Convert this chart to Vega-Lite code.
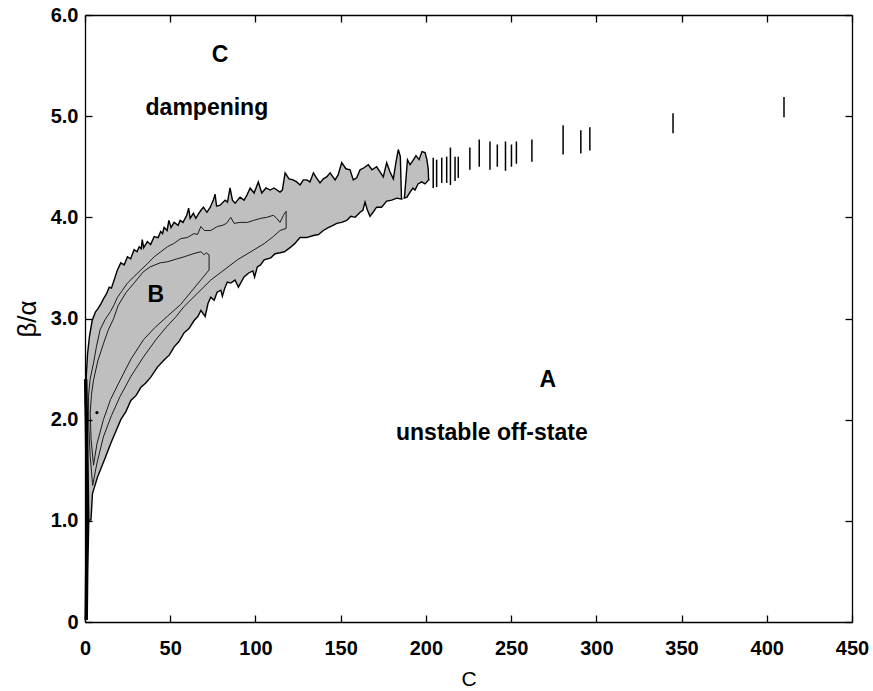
{
 "$schema": "https://vega.github.io/schema/vega-lite/v6.json",
 "width": 767, "height": 607,
 "autosize": {"type": "none"},
 "padding": {"left": 85, "top": 15, "right": 21, "bottom": 69},
 "background": "white",
 "config": {
  "view": {"stroke": null},
  "axis": {"domainColor": "black", "domainWidth": 1.3, "tickColor": "black", "tickWidth": 1.3, "tickSize": -7,
   "labelFont": "Liberation Sans", "labelFontWeight": "bold", "labelFontSize": 20, "labelColor": "black", "labelFlush": false, "labelOverlap": false,
   "titleFont": "Liberation Sans", "titleColor": "black", "titleFontWeight": "normal", "grid": false, "zindex": 1}
 },
 "datasets": {
  "upper": [
   {"seg":1,"x":0.2,"hi":2.15},{"seg":1,"x":0.8,"hi":2.45},{"seg":1,"x":1.5,"hi":2.65},{"seg":1,"x":2.6,"hi":2.82},{"seg":1,"x":4.2,"hi":2.98},{"seg":1,"x":6.0,"hi":3.06},{"seg":1,"x":7.7,"hi":3.10},{"seg":1,"x":9.5,"hi":3.15},{"seg":1,"x":11.0,"hi":3.20},{"seg":1,"x":12.5,"hi":3.24},{"seg":1,"x":14.2,"hi":3.31},{"seg":1,"x":15.5,"hi":3.30},{"seg":1,"x":17.1,"hi":3.38},{"seg":1,"x":19.0,"hi":3.48},{"seg":1,"x":21.0,"hi":3.55},{"seg":1,"x":23.0,"hi":3.53},{"seg":1,"x":24.9,"hi":3.61},{"seg":1,"x":26.8,"hi":3.59},{"seg":1,"x":28.8,"hi":3.68},{"seg":1,"x":30.5,"hi":3.66},{"seg":1,"x":31.8,"hi":3.71},{"seg":1,"x":33.0,"hi":3.69},{"seg":1,"x":33.6,"hi":3.78},{"seg":1,"x":34.4,"hi":3.70},{"seg":1,"x":36.6,"hi":3.76},{"seg":1,"x":38.5,"hi":3.73},{"seg":1,"x":40.6,"hi":3.81},{"seg":1,"x":42.9,"hi":3.80},{"seg":1,"x":44.4,"hi":3.86},{"seg":1,"x":45.5,"hi":3.84},{"seg":1,"x":46.4,"hi":3.90},{"seg":1,"x":48.2,"hi":3.87},{"seg":1,"x":49.2,"hi":3.97},{"seg":1,"x":50.5,"hi":3.90},{"seg":1,"x":52.3,"hi":3.95},{"seg":1,"x":54.6,"hi":3.92},{"seg":1,"x":55.8,"hi":3.97},{"seg":1,"x":57.5,"hi":3.95},{"seg":1,"x":59.7,"hi":4.02},{"seg":1,"x":60.8,"hi":4.09},{"seg":1,"x":61.7,"hi":3.99},{"seg":1,"x":63.6,"hi":4.04},{"seg":1,"x":65.0,"hi":3.99},{"seg":1,"x":66.4,"hi":4.03},{"seg":1,"x":68.0,"hi":4.07},{"seg":1,"x":69.5,"hi":4.10},{"seg":1,"x":71.5,"hi":4.05},{"seg":1,"x":73.5,"hi":4.10},{"seg":1,"x":75.3,"hi":4.17},{"seg":1,"x":76.3,"hi":4.23},{"seg":1,"x":77.2,"hi":4.11},{"seg":1,"x":79.3,"hi":4.12},{"seg":1,"x":82.2,"hi":4.17},{"seg":1,"x":83.6,"hi":4.15},{"seg":1,"x":85.1,"hi":4.29},{"seg":1,"x":86.5,"hi":4.17},{"seg":1,"x":88.1,"hi":4.14},{"seg":1,"x":91.0,"hi":4.20},{"seg":1,"x":93.3,"hi":4.17},{"seg":1,"x":95.0,"hi":4.22},{"seg":1,"x":96.9,"hi":4.29},{"seg":1,"x":99.2,"hi":4.24},{"seg":1,"x":101.7,"hi":4.35},{"seg":1,"x":103.7,"hi":4.24},{"seg":1,"x":106.2,"hi":4.29},{"seg":1,"x":108.6,"hi":4.27},{"seg":1,"x":110.9,"hi":4.29},{"seg":1,"x":114.4,"hi":4.25},{"seg":1,"x":115.8,"hi":4.27},{"seg":1,"x":117.4,"hi":4.44},{"seg":1,"x":119.7,"hi":4.38},{"seg":1,"x":122.1,"hi":4.37},{"seg":1,"x":124.2,"hi":4.35},{"seg":1,"x":126.2,"hi":4.32},{"seg":1,"x":128.1,"hi":4.37},{"seg":1,"x":130.1,"hi":4.37},{"seg":1,"x":132.0,"hi":4.35},{"seg":1,"x":134.0,"hi":4.44},{"seg":1,"x":135.8,"hi":4.39},{"seg":1,"x":137.9,"hi":4.34},{"seg":1,"x":139.8,"hi":4.38},{"seg":1,"x":141.8,"hi":4.40},{"seg":1,"x":143.8,"hi":4.44},{"seg":1,"x":146.7,"hi":4.37},{"seg":1,"x":148.5,"hi":4.42},{"seg":1,"x":150.6,"hi":4.54},{"seg":1,"x":153.1,"hi":4.48},{"seg":1,"x":155.5,"hi":4.47},{"seg":1,"x":157.4,"hi":4.37},{"seg":1,"x":159.4,"hi":4.39},{"seg":1,"x":161.4,"hi":4.47},{"seg":1,"x":163.7,"hi":4.49},{"seg":1,"x":166.2,"hi":4.52},{"seg":1,"x":168.4,"hi":4.47},{"seg":1,"x":171.1,"hi":4.50},{"seg":1,"x":173.1,"hi":4.45},{"seg":1,"x":175.0,"hi":4.40},{"seg":1,"x":177.0,"hi":4.54},{"seg":1,"x":178.9,"hi":4.45},{"seg":1,"x":180.9,"hi":4.38},{"seg":1,"x":182.5,"hi":4.55},{"seg":1,"x":183.8,"hi":4.67},{"seg":1,"x":185.0,"hi":4.60},{"seg":1,"x":185.7,"hi":4.18},
   {"seg":2,"x":187.4,"hi":4.19},{"seg":2,"x":189.2,"hi":4.57},{"seg":2,"x":190.7,"hi":4.52},{"seg":2,"x":192.4,"hi":4.56},{"seg":2,"x":194.2,"hi":4.61},{"seg":2,"x":196.0,"hi":4.57},{"seg":2,"x":197.7,"hi":4.65},{"seg":2,"x":199.5,"hi":4.64},{"seg":2,"x":200.6,"hi":4.57},{"seg":2,"x":201.4,"hi":4.47},{"seg":2,"x":201.6,"hi":4.37}
  ],
  "lower": [
   {"seg":1,"x":0.2,"lo":1.0},{"seg":1,"x":3.5,"lo":1.01},{"seg":1,"x":4.4,"lo":1.27},{"seg":1,"x":7.3,"lo":1.43},{"seg":1,"x":11.3,"lo":1.60},{"seg":1,"x":15.2,"lo":1.77},{"seg":1,"x":18.0,"lo":1.88},{"seg":1,"x":21.0,"lo":2.00},{"seg":1,"x":24.0,"lo":2.08},{"seg":1,"x":26.9,"lo":2.19},{"seg":1,"x":30.0,"lo":2.24},{"seg":1,"x":32.8,"lo":2.32},{"seg":1,"x":35.5,"lo":2.36},{"seg":1,"x":38.6,"lo":2.42},{"seg":1,"x":42.5,"lo":2.52},{"seg":1,"x":46.4,"lo":2.59},{"seg":1,"x":49.5,"lo":2.64},{"seg":1,"x":52.3,"lo":2.72},{"seg":1,"x":55.0,"lo":2.77},{"seg":1,"x":58.2,"lo":2.86},{"seg":1,"x":61.0,"lo":2.90},{"seg":1,"x":64.0,"lo":2.98},{"seg":1,"x":66.2,"lo":3.02},{"seg":1,"x":68.0,"lo":3.08},{"seg":1,"x":70.5,"lo":3.02},{"seg":1,"x":72.2,"lo":3.15},{"seg":1,"x":73.8,"lo":3.21},{"seg":1,"x":75.8,"lo":3.18},{"seg":1,"x":77.5,"lo":3.26},{"seg":1,"x":79.7,"lo":3.28},{"seg":1,"x":80.6,"lo":3.22},{"seg":1,"x":82.0,"lo":3.30},{"seg":1,"x":83.5,"lo":3.36},{"seg":1,"x":85.5,"lo":3.35},{"seg":1,"x":88.0,"lo":3.38},{"seg":1,"x":90.0,"lo":3.31},{"seg":1,"x":93.3,"lo":3.41},{"seg":1,"x":96.0,"lo":3.45},{"seg":1,"x":98.5,"lo":3.47},{"seg":1,"x":99.5,"lo":3.41},{"seg":1,"x":101.1,"lo":3.51},{"seg":1,"x":103.0,"lo":3.53},{"seg":1,"x":105.1,"lo":3.58},{"seg":1,"x":109.0,"lo":3.60},{"seg":1,"x":111.5,"lo":3.64},{"seg":1,"x":114.5,"lo":3.65},{"seg":1,"x":117.0,"lo":3.66},{"seg":1,"x":120.3,"lo":3.70},{"seg":1,"x":123.0,"lo":3.74},{"seg":1,"x":126.2,"lo":3.80},{"seg":1,"x":130.0,"lo":3.80},{"seg":1,"x":134.0,"lo":3.82},{"seg":1,"x":137.0,"lo":3.83},{"seg":1,"x":139.8,"lo":3.87},{"seg":1,"x":143.0,"lo":3.90},{"seg":1,"x":145.5,"lo":3.92},{"seg":1,"x":147.7,"lo":3.94},{"seg":1,"x":150.5,"lo":3.95},{"seg":1,"x":153.6,"lo":3.97},{"seg":1,"x":156.0,"lo":4.01},{"seg":1,"x":158.5,"lo":4.00},{"seg":1,"x":161.4,"lo":4.05},{"seg":1,"x":163.0,"lo":4.07},{"seg":1,"x":164.3,"lo":4.15},{"seg":1,"x":165.5,"lo":4.08},{"seg":1,"x":167.2,"lo":4.01},{"seg":1,"x":169.0,"lo":4.05},{"seg":1,"x":171.1,"lo":4.10},{"seg":1,"x":174.0,"lo":4.10},{"seg":1,"x":177.0,"lo":4.16},{"seg":1,"x":180.0,"lo":4.17},{"seg":1,"x":182.9,"lo":4.19},{"seg":1,"x":185.7,"lo":4.18},{"seg":1,"x":186.3,"lo":4.18},
   {"seg":2,"x":186.8,"lo":4.19},{"seg":2,"x":187.4,"lo":4.19},{"seg":2,"x":188.9,"lo":4.20},{"seg":2,"x":190.7,"lo":4.25},{"seg":2,"x":192.4,"lo":4.29},{"seg":2,"x":193.6,"lo":4.27},{"seg":2,"x":195.4,"lo":4.33},{"seg":2,"x":197.5,"lo":4.35},{"seg":2,"x":199.5,"lo":4.33},{"seg":2,"x":201.6,"lo":4.37},{"seg":2,"x":202.2,"lo":4.37}
  ],
  "contours": [
   {"c":"C1","i":1,"x":4.5,"y":1.35},{"c":"C1","i":2,"x":3.0,"y":1.65},{"c":"C1","i":3,"x":2.2,"y":1.95},{"c":"C1","i":4,"x":2.05,"y":2.23},{"c":"C1","i":5,"x":3.0,"y":2.40},{"c":"C1","i":6,"x":5.0,"y":2.56},{"c":"C1","i":7,"x":6.8,"y":2.73},{"c":"C1","i":8,"x":8.9,"y":2.89},{"c":"C1","i":9,"x":11.8,"y":2.99},{"c":"C1","i":10,"x":15.0,"y":3.07},{"c":"C1","i":11,"x":17.2,"y":3.14},{"c":"C1","i":12,"x":19.05,"y":3.21},{"c":"C1","i":13,"x":22.0,"y":3.28},{"c":"C1","i":14,"x":24.9,"y":3.35},{"c":"C1","i":15,"x":28.5,"y":3.41},{"c":"C1","i":16,"x":32.8,"y":3.48},{"c":"C1","i":17,"x":36.5,"y":3.54},{"c":"C1","i":18,"x":40.6,"y":3.61},{"c":"C1","i":19,"x":44.5,"y":3.66},{"c":"C1","i":20,"x":48.4,"y":3.71},{"c":"C1","i":21,"x":52.0,"y":3.74},{"c":"C1","i":22,"x":56.2,"y":3.79},{"c":"C1","i":23,"x":60.0,"y":3.80},{"c":"C1","i":24,"x":64.0,"y":3.84},{"c":"C1","i":25,"x":66.0,"y":3.83},{"c":"C1","i":26,"x":68.0,"y":3.91},{"c":"C1","i":27,"x":70.0,"y":3.87},{"c":"C1","i":28,"x":73.8,"y":3.87},{"c":"C1","i":29,"x":77.7,"y":3.91},{"c":"C1","i":30,"x":80.5,"y":3.92},{"c":"C1","i":31,"x":83.0,"y":3.94},{"c":"C1","i":32,"x":85.5,"y":4.00},{"c":"C1","i":33,"x":87.5,"y":3.94},{"c":"C1","i":34,"x":91.0,"y":3.95},{"c":"C1","i":35,"x":95.3,"y":3.95},{"c":"C1","i":36,"x":99.0,"y":3.97},{"c":"C1","i":37,"x":103.1,"y":3.99},{"c":"C1","i":38,"x":106.6,"y":4.00},{"c":"C1","i":39,"x":110.5,"y":4.02},{"c":"C1","i":40,"x":112.5,"y":3.99},{"c":"C1","i":41,"x":114.4,"y":3.95},{"c":"C1","i":42,"x":116.4,"y":4.02},{"c":"C1","i":43,"x":118.0,"y":4.06},{"c":"C1","i":44,"x":118.0,"y":3.89},{"c":"C1","i":45,"x":114.4,"y":3.87},{"c":"C1","i":46,"x":110.5,"y":3.81},{"c":"C1","i":47,"x":105.1,"y":3.74},{"c":"C1","i":48,"x":97.3,"y":3.66},{"c":"C1","i":49,"x":89.4,"y":3.58},{"c":"C1","i":50,"x":81.6,"y":3.48},{"c":"C1","i":51,"x":73.8,"y":3.38},{"c":"C1","i":52,"x":66.0,"y":3.25},{"c":"C1","i":53,"x":58.2,"y":3.12},{"c":"C1","i":54,"x":53.5,"y":3.02},{"c":"C1","i":55,"x":48.0,"y":2.92},{"c":"C1","i":56,"x":42.0,"y":2.80},{"c":"C1","i":57,"x":34.3,"y":2.62},{"c":"C1","i":58,"x":27.0,"y":2.43},{"c":"C1","i":59,"x":20.6,"y":2.23},{"c":"C1","i":60,"x":15.5,"y":2.04},{"c":"C1","i":61,"x":10.8,"y":1.83},{"c":"C1","i":62,"x":7.0,"y":1.57},{"c":"C1","i":63,"x":4.5,"y":1.35},
   {"c":"B","i":1,"x":5.0,"y":1.55},{"c":"B","i":2,"x":3.6,"y":1.80},{"c":"B","i":3,"x":3.05,"y":2.06},{"c":"B","i":4,"x":3.8,"y":2.25},{"c":"B","i":5,"x":5.0,"y":2.39},{"c":"B","i":6,"x":7.5,"y":2.58},{"c":"B","i":7,"x":10.8,"y":2.75},{"c":"B","i":8,"x":13.5,"y":2.88},{"c":"B","i":9,"x":16.8,"y":3.00},{"c":"B","i":10,"x":19.5,"y":3.13},{"c":"B","i":11,"x":24.2,"y":3.26},{"c":"B","i":12,"x":28.8,"y":3.35},{"c":"B","i":13,"x":34.1,"y":3.46},{"c":"B","i":14,"x":38.2,"y":3.51},{"c":"B","i":15,"x":44.1,"y":3.55},{"c":"B","i":16,"x":48.2,"y":3.56},{"c":"B","i":17,"x":54.1,"y":3.59},{"c":"B","i":18,"x":58.2,"y":3.61},{"c":"B","i":19,"x":63.4,"y":3.64},{"c":"B","i":20,"x":68.0,"y":3.66},{"c":"B","i":21,"x":69.9,"y":3.63},{"c":"B","i":22,"x":71.1,"y":3.65},{"c":"B","i":23,"x":72.8,"y":3.63},{"c":"B","i":24,"x":72.8,"y":3.48},{"c":"B","i":25,"x":64.0,"y":3.30},{"c":"B","i":26,"x":56.2,"y":3.14},{"c":"B","i":27,"x":48.2,"y":3.02},{"c":"B","i":28,"x":41.0,"y":2.91},{"c":"B","i":29,"x":34.3,"y":2.79},{"c":"B","i":30,"x":27.0,"y":2.60},{"c":"B","i":31,"x":20.6,"y":2.39},{"c":"B","i":32,"x":15.0,"y":2.20},{"c":"B","i":33,"x":10.8,"y":2.00},{"c":"B","i":34,"x":7.0,"y":1.76},{"c":"B","i":35,"x":5.0,"y":1.55}
  ],
  "spine": [
   {"i":1,"x":0.7,"y":0.02},{"i":2,"x":1.0,"y":0.5},{"i":3,"x":1.6,"y":1.0},{"i":4,"x":1.2,"y":1.5},{"i":5,"x":0.8,"y":2.0},{"i":6,"x":0.4,"y":2.4}
  ],
  "streaks": [
   {"x":204.3,"y1":4.29,"y2":4.59},{"x":206.3,"y1":4.30,"y2":4.57},{"x":209.3,"y1":4.34,"y2":4.59},{"x":212.2,"y1":4.34,"y2":4.60},{"x":214.4,"y1":4.32,"y2":4.69},{"x":217.1,"y1":4.36,"y2":4.60},{"x":219.0,"y1":4.39,"y2":4.60},{"x":225.8,"y1":4.47,"y2":4.69},{"x":231.3,"y1":4.50,"y2":4.77},{"x":237.6,"y1":4.47,"y2":4.75},{"x":241.9,"y1":4.50,"y2":4.72},{"x":246.7,"y1":4.46,"y2":4.75},{"x":250.2,"y1":4.50,"y2":4.72},{"x":253.1,"y1":4.53,"y2":4.75},{"x":262.2,"y1":4.55,"y2":4.77},{"x":280.5,"y1":4.62,"y2":4.91},{"x":290.9,"y1":4.63,"y2":4.86},{"x":296.2,"y1":4.66,"y2":4.89},{"x":345.0,"y1":4.83,"y2":5.03},{"x":410.1,"y1":4.99,"y2":5.19}
  ],
  "dots": [{"x":7.0,"y":2.07}],
  "labels": [
   {"label":"C","x":79.3,"y":5.6},
   {"label":"dampening","x":71.5,"y":5.08},
   {"label":"B","x":41.6,"y":3.23},
   {"label":"A","x":271.6,"y":2.39},
   {"label":"unstable off-state","x":238.7,"y":1.87}
  ]
 },
 "layer": [
  {
   "data": {"name": "upper"},
   "mark": {"type": "area", "color": "#bfbfbf"},
   "encoding": {
    "x": {"field": "x", "type": "quantitative", "scale": {"domain": [0, 450], "nice": false, "zero": false},
     "axis": {"values": [0,50,100,150,200,250,300,350,400,450], "title": "C", "titleFontSize": 21, "labelPadding": 23, "titlePadding": 10, "zindex": 2}},
    "y": {"field": "hi", "type": "quantitative", "scale": {"domain": [0, 6], "nice": false},
     "axis": {"values": [0,1,2,3,4,5,6], "labelExpr": "datum.value == 0 ? '0' : format(datum.value, '.1f')", "title": "β/α", "titleFontSize": 26, "labelPadding": 14, "titlePadding": 10, "zindex": 2}},
    "y2": {"datum": 0},
    "detail": {"field": "seg"}
   }
  },
  {
   "data": {"name": "lower"},
   "mark": {"type": "area", "color": "white"},
   "encoding": {
    "x": {"field": "x", "type": "quantitative", "axis": null},
    "y": {"field": "lo", "type": "quantitative", "axis": null},
    "y2": {"datum": 0},
    "detail": {"field": "seg"}
   }
  },
  {
   "data": {"name": "upper"},
   "mark": {"type": "line", "color": "black", "strokeWidth": 1.4},
   "encoding": {
    "x": {"field": "x", "type": "quantitative", "axis": null},
    "y": {"field": "hi", "type": "quantitative", "axis": null},
    "detail": {"field": "seg"}
   }
  },
  {
   "data": {"name": "lower"},
   "mark": {"type": "line", "color": "black", "strokeWidth": 1.4},
   "encoding": {
    "x": {"field": "x", "type": "quantitative", "axis": null},
    "y": {"field": "lo", "type": "quantitative", "axis": null},
    "detail": {"field": "seg"}
   }
  },
  {
   "data": {"name": "contours"},
   "mark": {"type": "line", "color": "#1a1a1a", "strokeWidth": 1},
   "encoding": {
    "x": {"field": "x", "type": "quantitative", "axis": null},
    "y": {"field": "y", "type": "quantitative", "axis": null},
    "detail": {"field": "c"},
    "order": {"field": "i"}
   }
  },
  {
   "data": {"name": "spine"},
   "mark": {"type": "line", "color": "black", "strokeWidth": 3.5},
   "encoding": {
    "x": {"field": "x", "type": "quantitative", "axis": null},
    "y": {"field": "y", "type": "quantitative", "axis": null},
    "order": {"field": "i"}
   }
  },
  {
   "data": {"name": "streaks"},
   "mark": {"type": "rule", "color": "black", "strokeWidth": 1.5},
   "encoding": {
    "x": {"field": "x", "type": "quantitative", "axis": null},
    "y": {"field": "y1", "type": "quantitative", "axis": null},
    "y2": {"field": "y2"}
   }
  },
  {
   "data": {"name": "dots"},
   "mark": {"type": "point", "filled": true, "color": "black", "size": 10, "opacity": 1},
   "encoding": {
    "x": {"field": "x", "type": "quantitative", "axis": null},
    "y": {"field": "y", "type": "quantitative", "axis": null}
   }
  },
  {
   "data": {"name": "labels"},
   "mark": {"type": "text", "font": "Liberation Sans", "fontWeight": "bold", "fontSize": 23, "color": "black", "align": "center", "baseline": "middle"},
   "encoding": {
    "x": {"field": "x", "type": "quantitative", "axis": {"orient": "top", "labels": false, "title": null, "values": [0,50,100,150,200,250,300,350,400,450], "zindex": 2}},
    "y": {"field": "y", "type": "quantitative", "axis": {"orient": "right", "labels": false, "title": null, "values": [0,1,2,3,4,5,6], "zindex": 2}},
    "text": {"field": "label"}
   }
  }
 ],
 "resolve": {"axis": {"x": "independent", "y": "independent"}}
}
